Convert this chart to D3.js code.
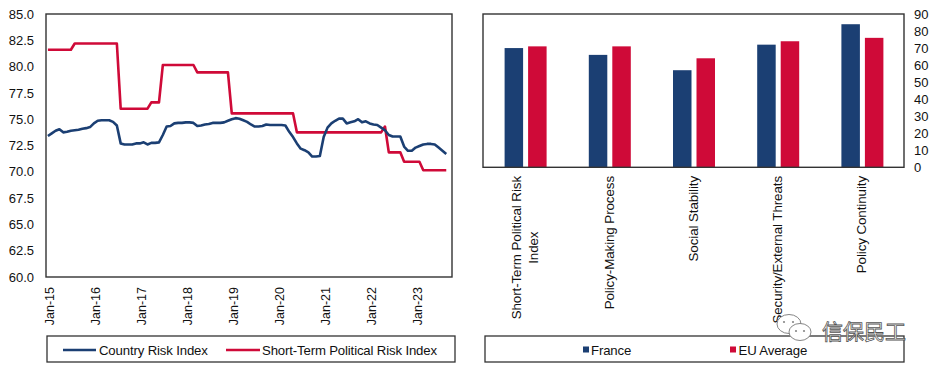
<!DOCTYPE html>
<html>
<head>
<meta charset="utf-8">
<script src="https://cdn.jsdelivr.net/npm/d3@7"></script>
<style>
  html, body { margin: 0; padding: 0; background: #fff; }
  svg { display: block; font-family: "Liberation Sans", Arial, sans-serif; }
</style>
</head>
<body>
<svg id="chart" width="941" height="373"></svg>
<script>
// ---------- DATA ----------
const startYear = 2015;            // first month = Jan-15
const xTickLabels = ["Jan-15","Jan-16","Jan-17","Jan-18","Jan-19","Jan-20","Jan-21","Jan-22","Jan-23"];
const xTickIndex  = [0, 12, 24, 36, 48, 60, 72, 84, 96];
const monthSlots = 106;            // category slots on the time axis (Jan-15 .. Oct-23)

const countryRisk = [
  73.4, 73.65, 73.9, 74.05, 73.75, 73.8, 73.9, 73.95, 74.0, 74.1, 74.15, 74.25,
  74.6, 74.85, 74.9, 74.9, 74.9, 74.75, 74.4, 72.7, 72.6, 72.6, 72.6, 72.7,
  72.7, 72.8, 72.6, 72.75, 72.75, 72.8, 73.5, 74.3, 74.35, 74.6, 74.65, 74.65,
  74.7, 74.7, 74.65, 74.35, 74.4, 74.5, 74.55, 74.65, 74.65, 74.65, 74.7, 74.85,
  75.0, 75.1, 75.05, 74.9, 74.75, 74.5, 74.3, 74.3, 74.35, 74.5, 74.45, 74.45,
  74.45, 74.45, 74.4, 73.8, 73.3, 72.7, 72.2, 72.05, 71.85, 71.45, 71.45, 71.5,
  73.3, 74.2, 74.6, 74.85, 75.05, 75.05, 74.6, 74.7, 74.8, 75.0, 74.7, 74.8,
  74.6, 74.5, 74.45, 74.2, 73.95, 73.5, 73.35, 73.35, 73.35, 72.4, 72.0, 72.0,
  72.3, 72.45, 72.6, 72.65, 72.65, 72.6, 72.3, 72.0, 71.7
];
const shortTermRisk = [
  81.6, 81.6, 81.6, 81.6, 81.6, 81.6, 81.6, 82.2, 82.2, 82.2, 82.2, 82.2,
  82.2, 82.2, 82.2, 82.2, 82.2, 82.2, 82.2, 76.0, 76.0, 76.0, 76.0, 76.0,
  76.0, 76.0, 76.0, 76.6, 76.6, 76.6, 80.15, 80.15, 80.15, 80.15, 80.15, 80.15,
  80.15, 80.15, 80.15, 79.45, 79.45, 79.45, 79.45, 79.45, 79.45, 79.45, 79.45, 79.45,
  75.55, 75.55, 75.55, 75.55, 75.55, 75.55, 75.55, 75.55, 75.55, 75.55, 75.55, 75.55,
  75.55, 75.55, 75.55, 75.55, 75.55, 73.75, 73.75, 73.75, 73.75, 73.75, 73.75, 73.75,
  73.75, 73.75, 73.75, 73.75, 73.75, 73.75, 73.75, 73.75, 73.75, 73.75, 73.75, 73.75,
  73.75, 73.75, 73.75, 73.75, 74.3, 71.85, 71.85, 71.85, 71.85, 70.95, 70.95, 70.95,
  70.95, 70.95, 70.15, 70.15, 70.15, 70.15, 70.15, 70.15, 70.15
];
const leftYTicks = [60, 62.5, 65, 67.5, 70, 72.5, 75, 77.5, 80, 82.5, 85];
const lineSeriesNames = ["Country Risk Index", "Short-Term Political Risk Index"];

const barCategories = [
  ["Short-Term Political Risk", "Index"],
  ["Policy-Making Process"],
  ["Social Stability"],
  ["Security/External Threats"],
  ["Policy Continuity"]
];
const franceValues = [70, 66, 57, 72, 84];
const euValues     = [71, 71, 64, 74, 76];
const barSeriesNames = ["France", "EU Average"];
const rightYTicks = [0, 10, 20, 30, 40, 50, 60, 70, 80, 90];

// ---------- STYLE ----------
const BLUE = "#1B3F73";
const RED = "#CF0A38";
const FRAME = "#333333";
const TEXT = "#111111";

const svg = d3.select("#chart");

// ================= LEFT CHART =================
const L = { left: 46, right: 452, top: 14, bottom: 277 };
const xL = d3.scaleLinear().domain([-0.5, monthSlots - 0.5]).range([L.left, L.right]);
const yL = d3.scaleLinear().domain([60, 85]).range([L.bottom, L.top]);

const gL = svg.append("g");

// y axis labels (left)
const yAxisL = d3.axisLeft(yL).tickValues(leftYTicks).tickFormat(d3.format(".1f")).tickSize(0).tickPadding(12);
gL.append("g").attr("transform", `translate(${L.left},0)`).call(yAxisL)
  .call(g => g.select(".domain").remove())
  .call(g => g.selectAll("text").attr("fill", TEXT).attr("font-size", 13)
     .attr("font-family", "'Liberation Sans', Arial, sans-serif"));

// x axis labels rotated
const xAxisL = d3.axisBottom(xL).tickValues(xTickIndex).tickFormat((d, i) => xTickLabels[i]).tickSize(0);
gL.append("g").attr("transform", `translate(0,${L.bottom})`).call(xAxisL)
  .call(g => g.select(".domain").remove())
  .call(g => g.selectAll("text")
     .attr("fill", TEXT).attr("font-size", 12.5)
     .attr("font-family", "'Liberation Sans', Arial, sans-serif")
     .attr("text-anchor", "end")
     .attr("dominant-baseline", "central")
     .attr("dy", null).attr("y", 0)
     .attr("transform", "translate(1.5,10) rotate(-90)"));

// lines
const lineGen = d3.line().x((d, i) => xL(i)).y(d => yL(d));
gL.append("path").datum(shortTermRisk).attr("d", lineGen)
  .attr("fill", "none").attr("stroke", RED).attr("stroke-width", 2.6).attr("stroke-linejoin", "round");
gL.append("path").datum(countryRisk).attr("d", lineGen)
  .attr("fill", "none").attr("stroke", BLUE).attr("stroke-width", 2.6).attr("stroke-linejoin", "round");

// frame
gL.append("rect").attr("x", L.left).attr("y", L.top).attr("width", L.right - L.left).attr("height", L.bottom - L.top)
  .attr("fill", "none").attr("stroke", FRAME).attr("stroke-width", 1.4);

// legend left
const legL = svg.append("g");
legL.append("rect").attr("x", 47).attr("y", 336).attr("width", 408).attr("height", 26)
  .attr("fill", "#fff").attr("stroke", FRAME).attr("stroke-width", 1.3);
const legLItems = [
  { name: lineSeriesNames[0], color: BLUE, x1: 63, x2: 96, tx: 99 },
  { name: lineSeriesNames[1], color: RED, x1: 226, x2: 260, tx: 262 }
];
legLItems.forEach(it => {
  legL.append("line").attr("x1", it.x1).attr("x2", it.x2).attr("y1", 350).attr("y2", 350)
    .attr("stroke", it.color).attr("stroke-width", 2.6);
  legL.append("text").attr("x", it.tx).attr("y", 350).attr("dominant-baseline", "central")
    .attr("font-size", 13.2).attr("fill", TEXT).attr("letter-spacing", -0.15).text(it.name);
});

// ================= RIGHT CHART =================
const R = { left: 483, right: 904, top: 14, bottom: 167.3 };
const xR = d3.scaleBand().domain(d3.range(barCategories.length)).range([R.left, R.right]);
const xSub = d3.scaleBand().domain(barSeriesNames).range([0, 42]).paddingInner(0.213);
const yR = d3.scaleLinear().domain([0, 90]).range([R.bottom, R.top]);
const gR = svg.append("g");

// y axis right
const yAxisR = d3.axisRight(yR).tickValues(rightYTicks).tickSize(0).tickPadding(10);
gR.append("g").attr("transform", `translate(${R.right},0)`).call(yAxisR)
  .call(g => g.select(".domain").remove())
  .call(g => g.selectAll("text").attr("fill", TEXT).attr("font-size", 13)
     .attr("font-family", "'Liberation Sans', Arial, sans-serif"));

// bars
const seriesVals = [franceValues, euValues];
const seriesCols = [BLUE, RED];
barSeriesNames.forEach((s, si) => {
  gR.selectAll(null).data(seriesVals[si]).enter().append("rect")
    .attr("x", (d, i) => xR(i) + xR.bandwidth() / 2 - 20.5 + xSub(s))
    .attr("width", xSub.bandwidth())
    .attr("y", d => yR(d))
    .attr("height", d => yR(0) - yR(d))
    .attr("fill", seriesCols[si]);
});

// frame
gR.append("rect").attr("x", R.left).attr("y", R.top).attr("width", R.right - R.left).attr("height", R.bottom - R.top)
  .attr("fill", "none").attr("stroke", FRAME).attr("stroke-width", 1.4);

// category labels (rotated, multi-line centred)
barCategories.forEach((lines, i) => {
  const cx = xR(i) + xR.bandwidth() / 2;
  const n = lines.length;
  const g = gR.append("g").attr("transform", `translate(${cx},176) rotate(-90)`);
  const t0 = g.append("text").attr("x", 0).attr("y", (0 - (n - 1) / 2) * 16.5)
    .attr("text-anchor", "end").attr("dominant-baseline", "central")
    .attr("font-size", 13.4).attr("fill", TEXT).attr("letter-spacing", -0.1).text(lines[0]);
  const len0 = t0.node().getComputedTextLength();
  for (let k = 1; k < n; k++) {
    g.append("text").attr("x", -len0 / 2).attr("y", (k - (n - 1) / 2) * 16.5)
      .attr("text-anchor", "middle").attr("dominant-baseline", "central")
      .attr("font-size", 13.4).attr("fill", TEXT).attr("letter-spacing", -0.1).text(lines[k]);
  }
});

// legend right
const legR = svg.append("g");
legR.append("rect").attr("x", 485).attr("y", 336).attr("width", 419).attr("height", 26)
  .attr("fill", "#fff").attr("stroke", FRAME).attr("stroke-width", 1.3);
const legRItems = [
  { name: barSeriesNames[0], color: BLUE, sx: 583, tx: 591 },
  { name: barSeriesNames[1], color: RED, sx: 730, tx: 738.5 }
];
legRItems.forEach(it => {
  legR.append("rect").attr("x", it.sx).attr("y", 346.5).attr("width", 6).attr("height", 6).attr("fill", it.color);
  legR.append("text").attr("x", it.tx).attr("y", 350).attr("dominant-baseline", "central")
    .attr("font-size", 13.2).attr("fill", TEXT).attr("letter-spacing", -0.15).text(it.name);
});

// watermark
const wm = svg.append("g");
wm.append("ellipse").attr("cx", 789).attr("cy", 324).attr("rx", 12).attr("ry", 9.5)
  .attr("fill", "#fff").attr("stroke", "#777").attr("stroke-width", 0.9);
wm.append("ellipse").attr("cx", 800).attr("cy", 332).attr("rx", 11).attr("ry", 8.5)
  .attr("fill", "#fff").attr("stroke", "#777").attr("stroke-width", 0.9);
[[784, 322], [793, 322], [796, 331], [804, 331]].forEach(p =>
  wm.append("circle").attr("cx", p[0]).attr("cy", p[1]).attr("r", 1.1).attr("fill", "#888"));
wm.append("text").attr("x", 822).attr("y", 330).attr("dominant-baseline", "central")
  .attr("font-family", "'Noto Sans CJK SC', sans-serif").attr("font-size", 21)
  .attr("fill", "#fff").attr("stroke", "#555").attr("stroke-width", 0.8).text("信保民工");
</script>
</body>
</html>
